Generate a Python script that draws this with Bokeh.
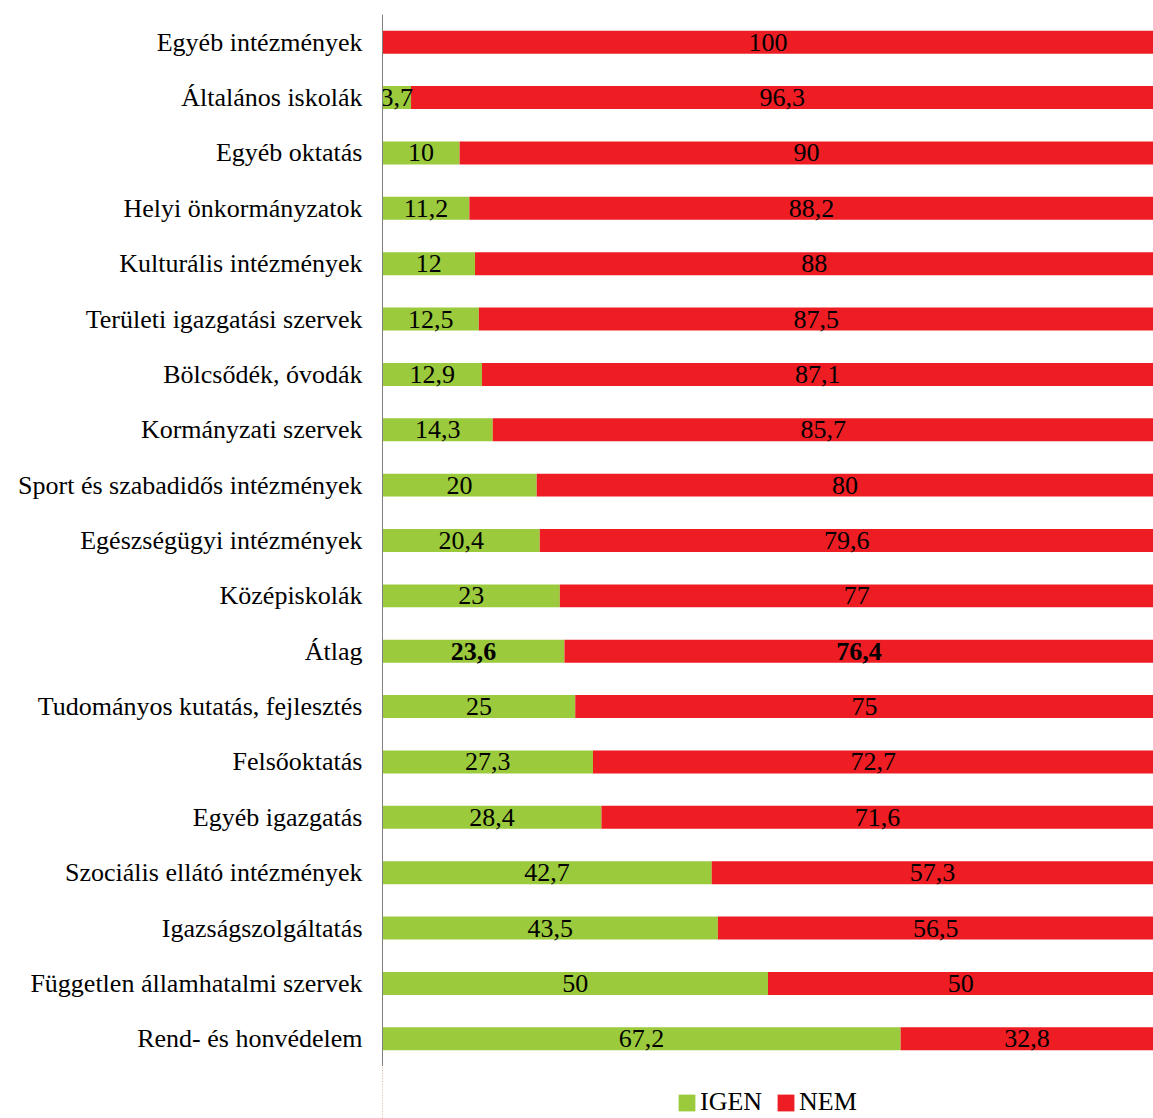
from bokeh.plotting import figure
from bokeh.layouts import column
from bokeh.models import ColumnDataSource, FactorRange, Range1d, Legend, LegendItem
from bokeh.core.properties import value
from bokeh.embed import file_html
from bokeh.resources import INLINE

categories = [
    "Egyéb intézmények", "Általános iskolák", "Egyéb oktatás", "Helyi önkormányzatok",
    "Kulturális intézmények", "Területi igazgatási szervek", "Bölcsődék, óvodák",
    "Kormányzati szervek", "Sport és szabadidős intézmények", "Egészségügyi intézmények",
    "Középiskolák", "Átlag", "Tudományos kutatás, fejlesztés", "Felsőoktatás",
    "Egyéb igazgatás", "Szociális ellátó intézmények", "Igazságszolgáltatás",
    "Független államhatalmi szervek", "Rend- és honvédelem",
]
igen = [0, 3.7, 10, 11.2, 12, 12.5, 12.9, 14.3, 20, 20.4, 23, 23.6, 25, 27.3, 28.4, 42.7, 43.5, 50, 67.2]
nem = [100, 96.3, 90, 88.2, 88, 87.5, 87.1, 85.7, 80, 79.6, 77, 76.4, 75, 72.7, 71.6, 57.3, 56.5, 50, 32.8]
series_names = ["IGEN", "NEM"]
colors = ["#9BCA3C", "#EE1D24"]

FONT = "Liberation Serif"
FS = "26px"

def fmt(v):
    return ("%g" % v).replace(".", ",")

# 100% stacked: normalise each row to its total
tot = [a + b for a, b in zip(igen, nem)]
igen_pct = [a / t * 100 for a, t in zip(igen, tot)]
nem_pct = [b / t * 100 for b, t in zip(nem, tot)]

styles = ["bold" if c == "Átlag" else "normal" for c in categories]

source = ColumnDataSource(dict(cat=categories, IGEN=igen_pct, NEM=nem_pct))

p = figure(
    frame_width=771, frame_height=1052,
    y_range=FactorRange(factors=list(reversed(categories))),
    x_range=Range1d(0, 100),
    output_backend="svg", toolbar_location=None,
    min_border_top=14, min_border_right=0, min_border_left=382, min_border_bottom=0,
)
p.outline_line_color = None
p.xgrid.visible = False
p.ygrid.visible = False
p.xaxis.visible = False

renderers = p.hbar_stack(series_names, y="cat", height=0.415, color=colors,
                         line_color=None, source=source)

l_cat, l_x, l_t, l_s = [], [], [], []
for c, a, b, ap, bp, s in zip(categories, igen, nem, igen_pct, nem_pct, styles):
    if a > 0:
        l_cat.append(c); l_x.append(ap / 2); l_t.append(fmt(a)); l_s.append(s)
    if b > 0:
        l_cat.append(c); l_x.append(ap + bp / 2); l_t.append(fmt(b)); l_s.append(s)

lab_src = ColumnDataSource(dict(cat=l_cat, x=l_x, t=l_t, s=l_s))
p.text(x="x", y="cat", text="t", source=lab_src, text_font=value(FONT),
       text_font_size=FS, text_font_style="s", text_color="#000000",
       text_align="center", text_baseline="middle")

ax = p.yaxis[0]
ax.axis_line_color = "#808080"
ax.axis_line_width = 1
ax.major_tick_line_color = None
ax.minor_tick_line_color = None
ax.major_tick_out = 0
ax.major_tick_in = 0
ax.major_label_standoff = 20
ax.major_label_text_font = FONT
ax.major_label_text_font_size = FS
ax.major_label_text_color = "#000000"

# legend strip below the chart (its frame is aligned with the chart's frame by the column)
lg = figure(frame_width=771, height=52, min_border_left=382, min_border_right=0,
            min_border_top=0, min_border_bottom=0,
            x_range=Range1d(200, 300), y_range=FactorRange(factors=list(reversed(categories))),
            output_backend="svg", toolbar_location=None,
            x_axis_location=None, y_axis_location=None)
lg.outline_line_color = None
lg.xgrid.visible = False
lg.ygrid.visible = False
# same series, outside the strip's visible x range: only their legend swatches show
swatch_src = lg.hbar_stack(series_names, y="cat", height=0.415, color=colors,
                           line_color=None, source=source)

legend = Legend(
    items=[LegendItem(label=n, renderers=[r]) for n, r in zip(series_names, swatch_src)],
    orientation="horizontal", location=(294, 1),
    glyph_width=21, glyph_height=21, label_standoff=3, spacing=13,
    label_text_font=FONT, label_text_font_size=FS, label_text_color="#000000",
    border_line_color=None, background_fill_alpha=0, padding=0, margin=0,
    label_height=20,
)
lg.add_layout(legend, "center")

layout = column(p, lg, spacing=0)
open("out.html", "w").write(file_html(layout, INLINE))
